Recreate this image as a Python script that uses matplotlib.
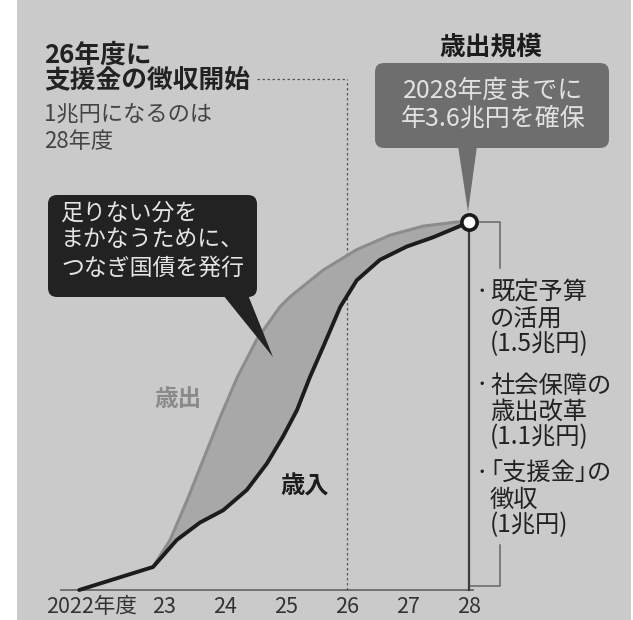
import matplotlib.pyplot as plt
import matplotlib.transforms as mtransforms
from matplotlib.patches import FancyBboxPatch, Polygon, Rectangle

plt.rcParams["font.family"] = ["Noto Sans CJK JP", "DejaVu Sans"]

W, H = 633, 620

# x axis
years = [22, 23, 24, 25, 26, 27, 28]
year_labels = ["2022年度", "23", "24", "25", "26", "27", "28"]

# 歳出 (gray line, splits from 歳入 after 23)
spend_x = [22.82, 23.10, 23.38, 23.64, 23.92, 24.20, 24.52, 24.90, 25.07, 25.61,
           26.16, 26.70, 27.25, 27.80, 28.0]
spend_y = [0.225, 0.49, 0.88, 1.27, 1.69, 2.08, 2.45, 2.77, 2.87, 3.13,
           3.33, 3.47, 3.56, 3.60, 3.6]

# 歳入 (black line)
rev_x = [21.61, 22.82, 23.21, 23.59, 23.97, 24.36, 24.69, 24.95, 25.18, 25.39,
         25.61, 25.89, 26.16, 26.54, 26.98, 27.41, 27.85, 28.0]
rev_y = [0.0, 0.225, 0.49, 0.66, 0.78, 0.98, 1.24, 1.50, 1.76, 2.08,
         2.38, 2.77, 3.03, 3.23, 3.36, 3.45, 3.56, 3.6]

target_year = 28
target_value = 3.6
collect_start = 26

measures = [
    ["既定予算", "の活用", "(1.5兆円)"],
    ["社会保障の", "歳出改革", "(1.1兆円)"],
    ["｢支援金｣の", "徴収", "(1兆円)"],
]

# pixel layout of the scan
X28_PX, PX_PER_YEAR = 469, 61
BASE_PX, TOP_PX = 590, 222
VAL_PER_PX = target_value / (BASE_PX - TOP_PX)


def px_x(px):
    return target_year + (px - X28_PX) / PX_PER_YEAR


def px_y(py):
    return (BASE_PX - py) * VAL_PER_PX


fig = plt.figure(figsize=(W / 100, H / 100), dpi=100)
fig.patch.set_facecolor("white")
pix = mtransforms.Affine2D().scale(1 / W, -1 / H).translate(0, 1) + fig.transFigure

fig.add_artist(Rectangle((17, 0), 614, H, transform=pix, facecolor="#cacaca",
                         edgecolor="none", zorder=-1))

ax = fig.add_axes([0, 0, 1, 1])
ax.set_xlim(px_x(0), px_x(W))
ax.set_ylim(px_y(H), px_y(0))
ax.axis("off")

# gap between the curves
poly_x = spend_x + rev_x[::-1][:-1]
poly_y = spend_y + rev_y[::-1][:-1]
ax.fill(poly_x, poly_y, color="#a8a8a8", lw=0, zorder=2)
ax.plot(spend_x, spend_y, color="#8c8c8c", lw=2.2, solid_joinstyle="round", zorder=3)
ax.plot(rev_x, rev_y, color="#1c1c1c", lw=2.8, solid_joinstyle="round",
        solid_capstyle="round", zorder=4)

# base line, 26 dashed marker, 28 line
ax.plot([px_x(61), px_x(473)], [0, 0], color="#6a6a6a", lw=1.3, zorder=1)
ax.plot([collect_start, collect_start], [0, px_y(79)], color="#555555", lw=0.9,
        ls=(0, (2, 2)), zorder=1)
ax.plot([px_x(257), collect_start], [px_y(79), px_y(79)], color="#555555", lw=0.9,
        ls=(0, (2, 2)), zorder=1)
ax.plot([target_year, target_year], [0, target_value], color="#3c3c3c", lw=1.6, zorder=5)
ax.plot(target_year, target_value, "o", ms=11, mfc="white", mec="#1a1a1a", mew=2.6, zorder=6)

# bracket on the right
bx = px_x(500)
ax.plot([target_year, bx, bx], [target_value, target_value, px_y(268)],
        color="#666666", lw=1.1, zorder=1)
ax.plot([bx, bx, target_year], [px_y(545), px_y(586), px_y(586)],
        color="#666666", lw=1.1, zorder=1)

# tick labels
lab_tr = mtransforms.blended_transform_factory(ax.transData, pix)
for i, (yr, lab) in enumerate(zip(years, year_labels)):
    tr = lab_tr
    if i == 0:
        tr = lab_tr + mtransforms.ScaledTranslation(-0.11, 0, fig.dpi_scale_trans)
    ax.text(yr, 607, lab, transform=tr, ha="center", va="center",
            fontsize=15.5, color="#333333")

# series labels
fig.text(178, 399, "歳出", transform=pix, ha="center", va="center",
         fontsize=17, fontweight="bold", color="#8a8a8a")
fig.text(305, 487, "歳入", transform=pix, ha="center", va="center",
         fontsize=17.5, fontweight="bold", color="#1c1c1c")

# top-left notes
fig.text(44, 55, "26年度に", transform=pix, ha="left", va="center",
         fontsize=18.5, fontweight="bold", color="#222222")
fig.text(44, 81, "支援金の徴収開始", transform=pix, ha="left", va="center",
         fontsize=18.5, fontweight="bold", color="#222222")
fig.text(44, 115, "1兆円になるのは", transform=pix, ha="left", va="center",
         fontsize=16, color="#444444")
fig.text(44, 141, "28年度", transform=pix, ha="left", va="center",
         fontsize=16, color="#444444")

# black callout
fig.add_artist(FancyBboxPatch((48, 195), 209, 102, transform=pix,
                              boxstyle="round,pad=0,rounding_size=9",
                              facecolor="#222222", edgecolor="none", zorder=2))
fig.add_artist(Polygon([(223, 295), (248, 295), (273, 357)], closed=True,
                       transform=pix, facecolor="#222222", edgecolor="none", zorder=2))
for yy, line in zip([213, 240, 268], ["足りない分を", "まかなうために、", "つなぎ国債を発行"]):
    fig.text(61, yy, line, transform=pix, ha="left", va="center",
             fontsize=16.5, color="#e4e4e4")

# gray callout
fig.text(491, 47, "歳出規模", transform=pix, ha="center", va="center",
         fontsize=18.5, fontweight="bold", color="#1c1c1c")
fig.add_artist(FancyBboxPatch((375, 63), 234, 85, transform=pix,
                              boxstyle="round,pad=0,rounding_size=9",
                              facecolor="#6e6e6e", edgecolor="none", zorder=2))
fig.add_artist(Polygon([(458, 146), (477, 146), (468, 212)], closed=True,
                       transform=pix, facecolor="#6e6e6e", edgecolor="none", zorder=2))
fig.text(493, 91, "2028年度までに", transform=pix, ha="center", va="center",
         fontsize=18, color="#e2e2e2")
fig.text(493, 119, "年3.6兆円を確保", transform=pix, ha="center", va="center",
         fontsize=18, color="#e2e2e2")

# funding measures
group_top = [280, 373, 461]
for lines, top in zip(measures, group_top):
    fig.text(482, top + 12, "･", transform=pix, ha="center", va="center",
             fontsize=15, color="#222222")
    fig.text(490, top, "\n".join(lines), transform=pix, ha="left", va="top",
             fontsize=17.5, color="#222222", linespacing=0.98)

fig.savefig("out.png", dpi=100)
